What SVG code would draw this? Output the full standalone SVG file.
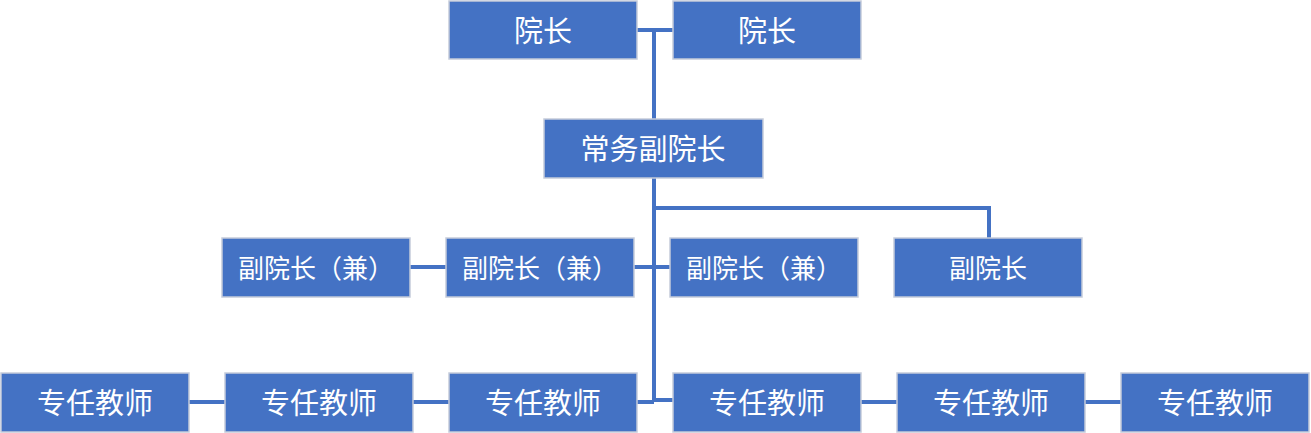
<svg xmlns="http://www.w3.org/2000/svg" width="1311" height="433" viewBox="0 0 1311 433">
<style>
.box{fill:#4472C4;stroke:#C5CCDA;stroke-width:1.5}
.t{fill:#fff;font-family:"Noto Sans CJK SC","Liberation Sans",sans-serif;text-anchor:middle;dominant-baseline:central}
.l{font-size:29px}
.m{font-size:26px}
.c{fill:none;stroke:#4472C4;stroke-width:4}
</style>
<rect width="1311" height="433" fill="#fff"/>
<g id="connectors">
<path class="c" d="M637 30H673M654 30V400H673M654 208H989V238M410 267H446M634 267H670M189 402H225M413 402H449M637 402H654M861 402H897M1085 402H1121"/>
</g>
<g id="n1"><rect class="box" x="449" y="1" width="188" height="58"/><text class="t l" x="543" y="29">院长</text></g>
<g id="n2"><rect class="box" x="673" y="1" width="188" height="58"/><text class="t l" x="767" y="29">院长</text></g>
<g id="n3"><rect class="box" x="544" y="119" width="219" height="59"/><text class="t l" x="653" y="147">常务副院长</text></g>
<g id="n4"><rect class="box" x="222" y="238" width="188" height="59"/><text class="t m" x="316" y="266">副院长（兼）</text></g>
<g id="n5"><rect class="box" x="446" y="238" width="188" height="59"/><text class="t m" x="540" y="266">副院长（兼）</text></g>
<g id="n6"><rect class="box" x="670" y="238" width="188" height="59"/><text class="t m" x="764" y="266">副院长（兼）</text></g>
<g id="n7"><rect class="box" x="894" y="238" width="188" height="59"/><text class="t m" x="988" y="266">副院长</text></g>
<g id="n8"><rect class="box" x="1" y="373" width="188" height="59"/><text class="t l" x="95" y="401">专任教师</text></g>
<g id="n9"><rect class="box" x="225" y="373" width="188" height="59"/><text class="t l" x="319" y="401">专任教师</text></g>
<g id="n10"><rect class="box" x="449" y="373" width="188" height="59"/><text class="t l" x="543" y="401">专任教师</text></g>
<g id="n11"><rect class="box" x="673" y="373" width="188" height="59"/><text class="t l" x="767" y="401">专任教师</text></g>
<g id="n12"><rect class="box" x="897" y="373" width="188" height="59"/><text class="t l" x="991" y="401">专任教师</text></g>
<g id="n13"><rect class="box" x="1121" y="373" width="188" height="59"/><text class="t l" x="1215" y="401">专任教师</text></g>
</svg>
